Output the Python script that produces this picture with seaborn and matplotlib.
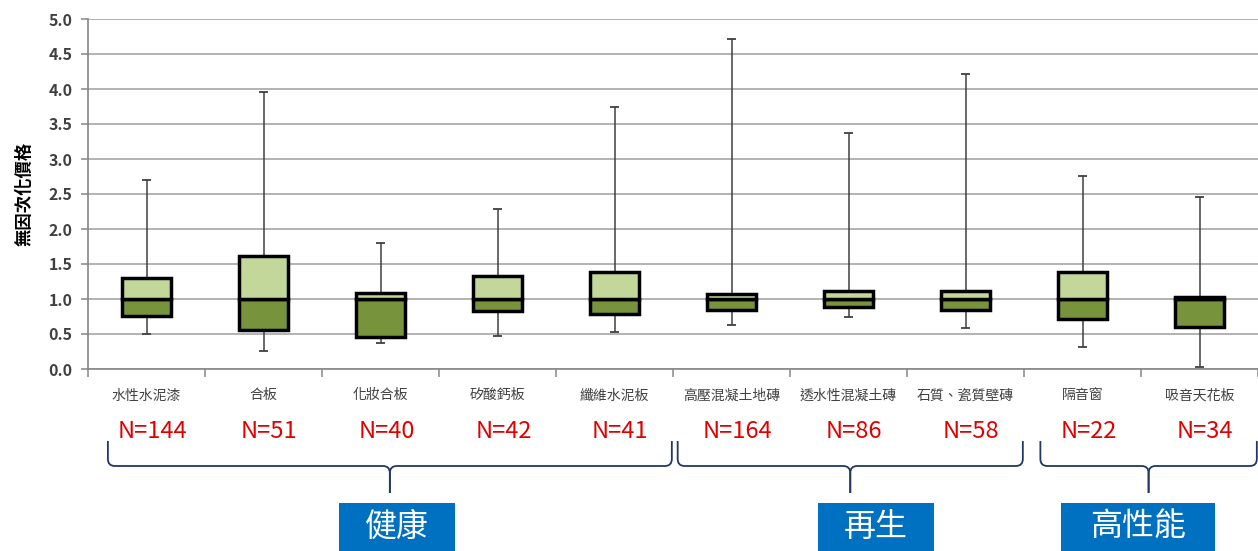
import matplotlib
matplotlib.use("Agg")  # headless
import matplotlib.pyplot as plt
from matplotlib.path import Path
from matplotlib.patches import PathPatch, Rectangle
import seaborn as sns
import pandas as pd

# ---- data ----
materials = ["水性水泥漆", "合板", "化妝合板", "矽酸鈣板", "纖維水泥板",
             "高壓混凝土地磚", "透水性混凝土磚", "石質、瓷質壁磚", "隔音窗", "吸音天花板"]
sample_sizes = [144, 51, 40, 42, 41, 164, 86, 58, 22, 34]
whisker_low = [0.50, 0.26, 0.37, 0.47, 0.53, 0.63, 0.74, 0.58, 0.32, 0.03]
q1 = [0.76, 0.56, 0.46, 0.83, 0.79, 0.84, 0.88, 0.84, 0.72, 0.60]
median = [1.0, 1.0, 1.0, 1.0, 1.0, 1.0, 1.0, 1.0, 1.0, 1.0]
q3 = [1.30, 1.61, 1.09, 1.33, 1.39, 1.07, 1.12, 1.12, 1.39, 1.03]
whisker_high = [2.70, 3.96, 1.80, 2.29, 3.74, 4.71, 3.37, 4.21, 2.76, 2.46]

groups = ["健康", "再生", "高性能"]
group_first = [0, 5, 8]
group_last = [4, 7, 9]

# layout tweaks for the braces / group tags (category units)
brace_left_pad = [0.33, 0.46, 0.36]
group_label_shift = [0.06, 0.22, -0.09]

DARK_GREEN = "#77933C"
LIGHT_GREEN = "#C4D79B"
GRID_GRAY = "#A6A6A6"
TEXT_GRAY = "#404040"
BRACE_BLUE = "#1F3864"
LABEL_BLUE = "#0070C0"

sns.set_style("white")
plt.rcParams["font.family"] = ["Noto Sans CJK TC", "DejaVu Sans"]

df = pd.DataFrame({
    "material": materials,
    "lower": [m - a for m, a in zip(median, q1)],
    "upper": [b - m for m, b in zip(median, q3)],
    "q1": q1,
    "median": median,
})

W, H = 1258, 551
fig = plt.figure(figsize=(W / 100, H / 100), dpi=100)
ax = fig.add_axes([88 / W, 182 / H, 1170 / W, 350 / H])

# box halves: Q1->median (dark), median->Q3 (light)
sns.barplot(data=df, x="material", y="lower", order=materials,
            bottom=df["q1"].to_numpy(), color=DARK_GREEN, saturation=1,
            width=0.42, edgecolor="black", linewidth=2.5, errorbar=None,
            ax=ax, zorder=3)
sns.barplot(data=df, x="material", y="upper", order=materials,
            bottom=df["median"].to_numpy(), color=LIGHT_GREEN, saturation=1,
            width=0.42, edgecolor="black", linewidth=2.5, errorbar=None,
            ax=ax, zorder=3)

pos = list(range(len(materials)))
ax.vlines(pos, q3, whisker_high, color=TEXT_GRAY, lw=1.1, zorder=2)
ax.vlines(pos, whisker_low, q1, color=TEXT_GRAY, lw=1.1, zorder=2)
ax.hlines(whisker_high, [p - 0.04 for p in pos], [p + 0.04 for p in pos],
          color=TEXT_GRAY, lw=1.3, zorder=2)
ax.hlines(whisker_low, [p - 0.04 for p in pos], [p + 0.04 for p in pos],
          color=TEXT_GRAY, lw=1.3, zorder=2)

ax.set_xlim(-0.5, len(materials) - 0.5)
ax.set_ylim(0, 5)
ax.set_yticks([i * 0.5 for i in range(11)])
ax.set_yticklabels([f"{i * 0.5:.1f}" for i in range(11)])
ax.set_xticks([i - 0.5 for i in range(len(materials) + 1)], minor=True)
ax.yaxis.grid(True, color=GRID_GRAY, lw=1.2)
ax.set_axisbelow(True)

for side in ["top", "right"]:
    ax.spines[side].set_visible(False)
for side in ["left", "bottom"]:
    ax.spines[side].set_color("#868686")
    ax.spines[side].set_linewidth(1.2)

ax.tick_params(axis="y", length=5, width=1.1, color="#868686", direction="out",
               labelsize=11.5, labelcolor=TEXT_GRAY, pad=6, left=True)
ax.tick_params(axis="x", which="major", length=0, pad=14,
               labelsize=10, labelcolor=TEXT_GRAY)
ax.tick_params(axis="x", which="minor", length=6, width=1.1, color="#868686",
               direction="out", bottom=True)
for lbl in ax.get_yticklabels():
    lbl.set_fontweight("bold")

ax.set_xlabel("")
ax.set_ylabel("無因次化價格", fontsize=12.5, fontweight="bold",
              color="black", labelpad=11)

# overlay in (category, pixel-row) coordinates for N labels, braces, groups
ov = fig.add_axes([88 / W, 0, 1170 / W, 1])
ov.set_xlim(-0.5, len(materials) - 0.5)
ov.set_ylim(H, 0)
ov.axis("off")
ov.patch.set_alpha(0)

for i, n in enumerate(sample_sizes):
    ov.text(i + 0.05, 431, f"N={n}", color="#E00000", fontsize=17,
            ha="center", va="center")


def brace(x0, x1, y_top=441, y_mid=466, y_tip=493, r=0.06):
    xm = (x0 + x1) / 2
    for a, s in ((x0, 1), (x1, -1)):
        verts = [(a, y_top), (a, y_mid - 7), (a, y_mid), (a + s * r, y_mid),
                 (xm - s * r, y_mid), (xm, y_mid), (xm, y_mid + 7), (xm, y_tip)]
        codes = [Path.MOVETO, Path.LINETO, Path.CURVE3, Path.CURVE3,
                 Path.LINETO, Path.CURVE3, Path.CURVE3, Path.LINETO]
        ov.add_patch(PathPatch(Path(verts, codes), fill=False,
                               edgecolor=BRACE_BLUE, lw=1.3, clip_on=False))
    return xm


for name, first, last, lpad, shift in zip(groups, group_first, group_last,
                                          brace_left_pad, group_label_shift):
    xm = brace(first - lpad, last + 0.49)
    xc = xm + shift
    bw = 0.33 * len(name) + 0.33
    ov.add_patch(Rectangle((xc - bw / 2, 503), bw, 60, facecolor=LABEL_BLUE,
                           edgecolor="none", clip_on=False))
    ov.text(xc, 527, name, color="white", fontsize=23, ha="center", va="center")

fig.savefig("out.png", dpi=100)
